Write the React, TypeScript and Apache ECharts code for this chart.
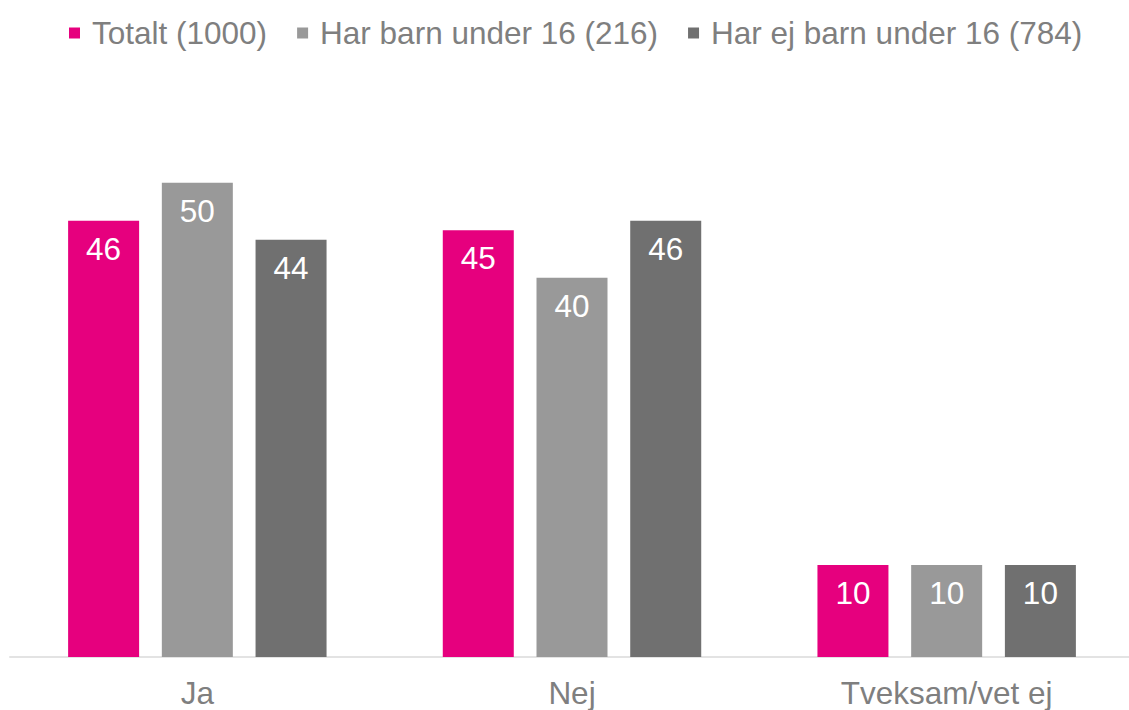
import React, { useEffect, useRef } from "react";
import * as echarts from "echarts";

const categories = ["Ja", "Nej", "Tveksam/vet ej"];
const seriesNames = ["Totalt (1000)", "Har barn under 16 (216)", "Har ej barn under 16 (784)"];
const totalt = [46, 45, 9.7];
const harBarn = [50, 40, 9.7];
const harEjBarn = [44, 46, 9.7];
const colors = ["#E6007E", "#999999", "#707070"];

export default function App() {
  const ref = useRef<HTMLDivElement>(null);
  useEffect(() => {
    if (!ref.current) return;
    const chart = echarts.init(ref.current, null, { renderer: "svg" });
    const font = "'Liberation Sans', Arial, sans-serif";
    const fs = 31.5;
    const dataSets = [totalt, harBarn, harEjBarn];
    chart.setOption({
      animation: false,
      textStyle: { fontFamily: font },
      legend: {
        top: 12,
        left: 64,
        itemWidth: 11,
        itemHeight: 11,
        itemGap: 30,
        icon: "rect",
        textStyle: { color: "#7f7f7f", fontSize: fs, fontFamily: font, padding: [0, 0, 0, 7] },
        data: seriesNames,
      },
      grid: { left: 10, width: 1124, top: 88, bottom: 53, containLabel: false },
      xAxis: {
        type: "category",
        data: categories,
        axisLine: { lineStyle: { color: "#e3e3e3", width: 2 } },
        axisTick: { show: false },
        axisLabel: { color: "#7f7f7f", fontSize: fs, margin: 23, lineHeight: 26, fontFamily: font },
      },
      yAxis: { type: "value", min: 0, max: 60, show: false, splitLine: { show: false } },
      series: seriesNames.map((name, i) => ({
        name,
        type: "bar",
        data: dataSets[i],
        barWidth: 71,
        barGap: "32%",
        itemStyle: { color: colors[i] },
        label: {
          show: true,
          position: "insideTop",
          distance: 12,
          color: "#ffffff",
          fontSize: fs,
          fontFamily: font,
          formatter: (p: any) => String(Math.round(p.value)),
        },
      })),
    });
    return () => chart.dispose();
  }, []);
  return (
    <div style={{ position: "fixed", left: 0, top: 0, width: 1129, height: 710, overflow: "hidden", background: "#fff" }}>
      <div ref={ref} style={{ position: "absolute", left: 0, top: 0, width: 1140, height: 710 }} />
    </div>
  );
}
